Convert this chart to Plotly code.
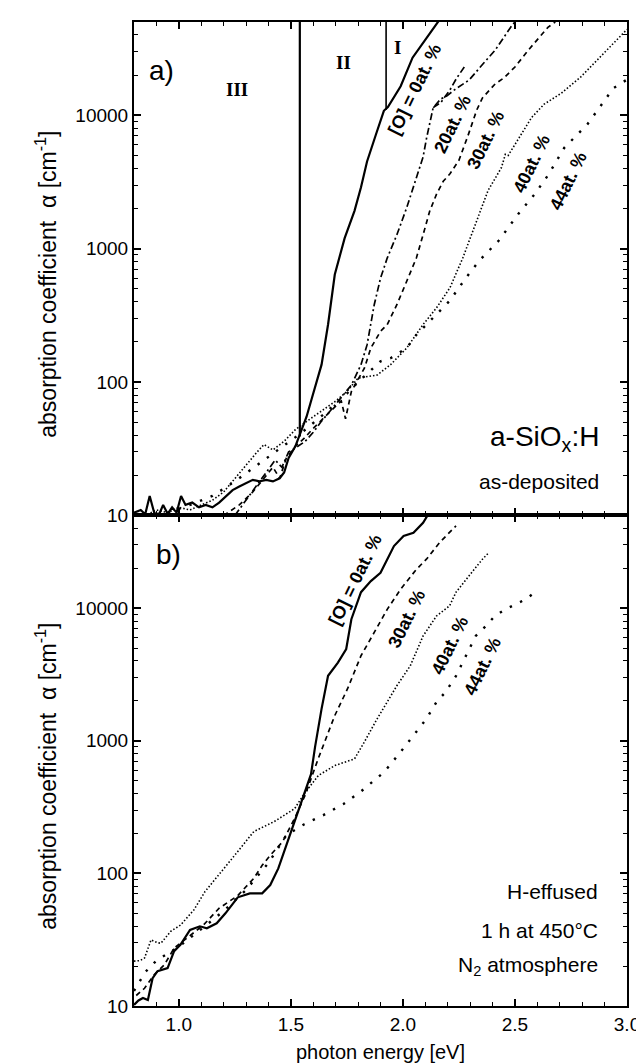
import numpy as np
import plotly.graph_objects as go

# ---------------- data: panel a) as-deposited ----------------
E_a0 = [0.80,0.83,0.85,0.87,0.89,0.91,0.93,0.95,0.97,0.99,1.01,1.03,1.06,1.09,1.12,1.15,1.18,1.21,1.24,1.27,1.30,1.33,1.36,1.39,1.42,1.45,1.47,1.49,1.52,1.55,1.57,1.594,1.637,1.666,1.696,1.74,1.784,1.813,1.84,1.88,1.915,1.933,1.96,1.99,2.043,2.098,2.16]
A_a0 = [10.5,11,10.2,14,10.5,10,12,10.3,11.5,10.5,14,12,12.5,11.5,12,11.5,12.5,14,15.5,16.5,17.5,18.5,18,18.5,18,19,21,27,33,45,55,76,135,270,640,1200,1920,2890,4500,7200,10800,11500,13500,16500,27000,36600,51000]

E_a20 = [1.25,1.30,1.35,1.40,1.43,1.46,1.49,1.52,1.564,1.60,1.637,1.68,1.725,1.77,1.813,1.84,1.872,1.90,1.93,1.973,2.017,2.06,2.09,2.106,2.135,2.17,2.19,2.23,2.296,2.355,2.412,2.486,2.50]
A_a20 = [10,13,17,22,26,23,30,32,36,42,51,62,76,95,135,190,380,600,850,1270,2030,3430,4860,6800,11400,13300,13700,15500,18400,24000,30800,47000,50000]
E_a20b = [2.135,2.17,2.21,2.24,2.274]
A_a20b = [11400,12500,15500,19000,23000]

E_a30 = [1.20,1.27,1.33,1.38,1.42,1.45,1.48,1.52,1.56,1.60,1.65,1.70,1.725,1.744,1.77,1.80,1.828,1.857,1.90,1.93,1.973,2.017,2.06,2.09,2.12,2.15,2.18,2.21,2.25,2.29,2.33,2.355,2.412,2.45,2.50,2.56,2.647,2.68]
A_a30 = [10,12,15,19,23,19,27,33,38,45,55,66,72,53,85,105,127,180,240,270,380,570,850,1270,1920,2560,3200,3640,4600,7000,11000,13500,17200,19000,23000,30800,45600,50000]

E_a40 = [0.80,0.85,0.90,0.95,1.00,1.05,1.10,1.15,1.20,1.25,1.30,1.35,1.38,1.42,1.47,1.52,1.60,1.70,1.75,1.80,1.885,1.945,2.017,2.09,2.15,2.21,2.267,2.325,2.38,2.44,2.457,2.47,2.53,2.574,2.63,2.706,2.794,2.88,2.98,3.0]
A_a40 = [10.5,10,11,10.5,11.5,11,12,13,15,19,24,30,34,31,36,44,55,72,85,107,113,135,180,270,360,510,850,1530,2730,4060,5100,5000,7200,9600,12100,14600,19400,27300,41000,44000]

E_a44 = [0.85,0.95,1.05,1.15,1.25,1.35,1.45,1.55,1.65,1.75,1.80,1.85,1.90,1.945,2.017,2.06,2.135,2.208,2.28,2.34,2.428,2.516,2.588,2.65,2.72,2.823,2.94,3.0]
A_a44 = [10,10.5,12,14,18,24,32,42,58,82,100,120,143,151,180,226,302,405,600,810,1150,1830,2560,3600,5700,8540,16000,18500]

# region boundaries (energy, alpha from, alpha to)
E_bound = [1.54, 1.925]
A_bound_lo = [39, 11000]
A_bound_hi = [50000, 50000]

# ---------------- data: panel b) H-effused ----------------
E_b0 = [0.80,0.82,0.84,0.862,0.883,0.905,0.95,0.979,1.007,1.05,1.094,1.125,1.169,1.208,1.263,1.317,1.372,1.408,1.444,1.48,1.517,1.553,1.59,1.608,1.637,1.666,1.71,1.747,1.77,1.813,1.857,1.90,1.96,2.003,2.047,2.09,2.11]
A_b0 = [10.2,11,11.5,11.1,16.2,18.3,19.3,25.9,28.9,37.4,39.9,38.6,42,50,66,70.7,70.7,81.6,109,163,246,380,560,900,1740,3090,3890,4920,8250,13200,16000,18500,29400,35000,37000,44000,50000]

E_b30 = [0.81,0.847,0.89,0.935,0.979,1.037,1.11,1.18,1.263,1.335,1.372,1.408,1.463,1.517,1.564,1.623,1.696,1.753,1.813,1.872,1.93,1.99,2.06,2.105,2.165,2.237]
A_b30 = [12,13.6,17.2,20.4,27.3,32.5,40.8,54.6,68,92,115,137,173,260,390,740,1550,2470,4380,6560,9800,13900,19600,23400,31400,41800]

E_b40 = [0.80,0.827,0.847,0.876,0.905,0.92,0.964,1.008,1.067,1.117,1.227,1.335,1.426,1.517,1.56,1.623,1.696,1.784,1.828,1.885,1.973,2.033,2.09,2.15,2.208,2.237,2.296,2.355,2.384]
A_b40 = [21.8,22,23,31.5,30,29.7,36.6,40.8,53,73,123,207,246,308,400,548,650,730,980,1465,2600,3680,6170,8730,10400,13200,17600,23400,26300]

E_b44 = [0.80,0.85,0.9,1.0,1.1,1.2,1.3,1.4,1.48,1.56,1.645,1.735,1.813,1.916,1.99,2.06,2.105,2.15,2.19,2.237,2.28,2.325,2.37,2.41,2.457,2.5,2.545,2.58]
A_b44 = [13,18,22,28,38,52,75,120,194,235,275,334,415,580,825,1165,1465,1960,2330,3090,4380,6170,7330,8730,9800,10700,11600,12800]

# curve labels: (text, energy, alpha)
labels_a = [("[O] = 0at. %", 2.055, 15600), ("20at. %", 2.223, 8550), ("30at. %", 2.37, 6500),
            ("40at. %", 2.574, 4300), ("44at. %", 2.737, 3230)]
labels_b = [("[O] = 0at. %", 1.79, 16500), ("30at. %", 2.017, 8270),
            ("40at. %", 2.208, 5200), ("44at. %", 2.355, 3680)]

# ---------------- styles ----------------
S_SOLID = dict(color="black", width=2.2)
S_DASHDOT = dict(color="black", width=1.7, dash="7px,3px,2px,3px")
S_DASH = dict(color="black", width=1.7, dash="5px,4px")
S_DOT = dict(color="black", width=1.6, dash="1.5px,2px")
S_SPARSE = dict(color="black", width=2.4, dash="2.4px,9px")

FONT = "Liberation Sans, Arial, sans-serif"
SERIF = "Liberation Serif, Times New Roman, serif"

fig = go.Figure()

def add(x, y, line, xa, ya):
    fig.add_trace(go.Scatter(x=x, y=y, mode="lines", line=line, xaxis=xa, yaxis=ya,
                             showlegend=False, hoverinfo="skip"))

add(E_a0, A_a0, S_SOLID, "x", "y")
add(E_a20, A_a20, S_DASHDOT, "x", "y")
add(E_a20b, A_a20b, S_DASHDOT, "x", "y")
add(E_a30, A_a30, S_DASH, "x", "y")
add(E_a40, A_a40, S_DOT, "x", "y")
add(E_a44, A_a44, S_SPARSE, "x", "y")
for e, lo, hi, w in zip(E_bound, A_bound_lo, A_bound_hi, [2.2, 1.6]):
    add([e, e], [lo, hi], dict(color="black", width=w), "x", "y")

add(E_b0, A_b0, S_SOLID, "x2", "y2")
add(E_b30, A_b30, S_DASH, "x2", "y2")
add(E_b40, A_b40, S_DOT, "x2", "y2")
add(E_b44, A_b44, S_SPARSE, "x2", "y2")

split = 0.4985
ymax = np.log10(5e4)

xcommon = dict(range=[0.8, 3.0], tick0=0, dtick=0.5, tickformat=".1f", ticks="inside",
               ticklen=7, tickwidth=1.6, tickcolor="black", showline=True, linewidth=2,
               linecolor="black", mirror="allticks", showgrid=False, zeroline=False,
               minor=dict(dtick=0.1, ticks="inside", ticklen=4, tickwidth=1.4, tickcolor="black"),
               tickfont=dict(family=FONT, size=19, color="black"))
ycommon = dict(type="log", range=[1, ymax], dtick=1, tickformat="d", ticks="inside",
               ticklen=7, tickwidth=1.6, tickcolor="black", showline=True, linewidth=2,
               linecolor="black", mirror="allticks", showgrid=False, zeroline=False,
               minor=dict(dtick="D1", ticks="inside", ticklen=4, tickwidth=1.2, tickcolor="black"),
               tickfont=dict(family=FONT, size=19, color="black"))

fig.update_layout(
    width=644, height=1063,
    margin=dict(l=126, r=17, t=13, b=65),
    paper_bgcolor="white", plot_bgcolor="white",
    xaxis=dict(xcommon, anchor="y", domain=[0, 1], showticklabels=False),
    yaxis=dict(ycommon, anchor="x", domain=[split, 1]),
    xaxis2=dict(xcommon, anchor="y2", domain=[0, 1]),
    yaxis2=dict(ycommon, anchor="x2", domain=[0, split]),
)

ann = []
def txt(text, x, y, xref, yref, size, family=FONT, bold=False, angle=0, xanchor="center", yanchor="middle"):
    t = f"<b>{text}</b>" if bold else text
    ann.append(dict(text=t, x=x, y=np.log10(y), xref=xref, yref=yref, showarrow=False,
                    font=dict(family=family, size=size, color="black"), textangle=angle,
                    xanchor=xanchor, yanchor=yanchor))

for t, e, a in labels_a:
    txt(t, e, a, "x", "y", 18, bold=True, angle=-64)
for t, e, a in labels_b:
    txt(t, e, a, "x2", "y2", 18, bold=True, angle=-64)

txt("a)", 0.86, 21800, "x", "y", 28, xanchor="left")
txt("b)", 0.89, 25500, "x2", "y2", 28, xanchor="left")
txt("III", 1.26, 15500, "x", "y", 19, family=SERIF, bold=True)
txt("II", 1.735, 25000, "x", "y", 19, family=SERIF, bold=True)
txt("I", 1.975, 32000, "x", "y", 19, family=SERIF, bold=True)
txt("a-SiO<sub>x</sub>:H", 2.886, 38, "x", "y", 28, xanchor="right")
txt("as-deposited", 2.886, 18, "x", "y", 21, xanchor="right")
txt("H-effused", 2.88, 73, "x2", "y2", 21, xanchor="right")
txt("1 h at 450°C", 2.88, 37, "x2", "y2", 21, xanchor="right")
txt("N<sub>2</sub> atmosphere", 2.88, 20, "x2", "y2", 21, xanchor="right")

for yref in ["y domain", "y2 domain"]:
    ann.append(dict(text="absorption coefficient  α [cm<sup>-1</sup>]", xref="paper", x=0, xshift=-88,
                    yref=yref, y=0.5, yshift=-16, showarrow=False, textangle=-90,
                    xanchor="center", yanchor="middle",
                    font=dict(family=FONT, size=23, color="black")))
ann.append(dict(text="photon energy [eV]", xref="paper", x=0.5, yref="paper", y=0, yshift=-46,
                showarrow=False, xanchor="center", yanchor="middle",
                font=dict(family=FONT, size=20, color="black")))

fig.update_layout(annotations=ann)
fig.write_html("out.html")
